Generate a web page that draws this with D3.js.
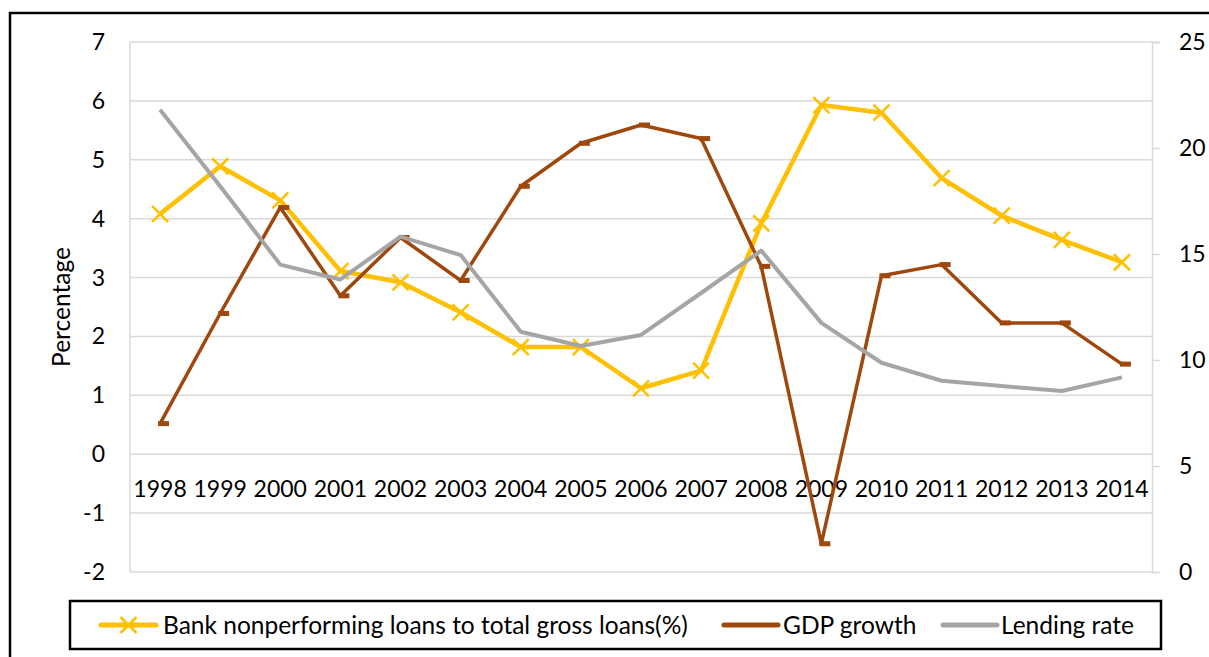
<!DOCTYPE html>
<html>
<head>
<meta charset="utf-8">
<script src="https://cdn.jsdelivr.net/npm/d3@7/dist/d3.min.js"></script>
<style>
  body { margin: 0; background: #fff; }
  svg { display: block; font-family: Lato, "Open Sans", sans-serif; }
</style>
</head>
<body>
<svg width="1209" height="657"></svg>
<script>
const years = ['1998', '1999', '2000', '2001', '2002', '2003', '2004', '2005', '2006',
  '2007', '2008', '2009', '2010', '2011', '2012', '2013', '2014'];
const nplValues = [4.08, 4.89, 4.31, 3.11, 2.92, 2.41, 1.82, 1.82, 1.12, 1.42, 3.92,
  5.93, 5.8, 4.69, 4.05, 3.64, 3.26];
const gdpValues = [0.52, 2.39, 4.19, 2.69, 3.68, 2.95, 4.55, 5.28, 5.59, 5.36, 3.19,
  -1.52, 3.03, 3.22, 2.23, 2.23, 1.53];
const lendingValues = [21.8, 18.2, 14.5, 13.8, 15.82, 14.95, 11.33, 10.66, 11.18, 13.16,
  15.16, 11.75, 9.87, 9.02, 8.77, 8.54, 9.18];
const leftTicks = [-2, -1, 0, 1, 2, 3, 4, 5, 6, 7];
const rightTicks = [0, 5, 10, 15, 20, 25];
const seriesNames = ['Bank nonperforming loans to total gross loans(%)', 'GDP growth', 'Lending rate'];

const colors = { npl: '#FFC000', gdp: '#9E480E', lending: '#A5A5A5', grid: '#D9D9D9' };

const svg = d3.select('svg');
const plot = { left: 130, right: 1152, top: 42, bottom: 572 };
const tickFont = 23;
const labelFont = 24.5;

// outer chart border (runs past the picture on the right and bottom)
svg.append('rect')
  .attr('x', 10).attr('y', 13)
  .attr('width', 1300).attr('height', 700)
  .attr('fill', '#fff')
  .attr('stroke', '#000')
  .attr('stroke-width', 2.5);

const x = d3.scaleBand().domain(years).range([plot.left, plot.right]);
const cx = (d) => x(d) + x.bandwidth() / 2;
const yL = d3.scaleLinear().domain([-2, 7]).range([plot.bottom, plot.top]);
const yR = d3.scaleLinear().domain([0, 25]).range([plot.bottom, plot.top]);

// gridlines
svg.append('g')
  .selectAll('line')
  .data(leftTicks)
  .enter()
  .append('line')
  .attr('x1', plot.left).attr('x2', plot.right)
  .attr('y1', (d) => yL(d)).attr('y2', (d) => yL(d))
  .attr('stroke', colors.grid)
  .attr('stroke-width', 1.5);

// left axis line
svg.append('line')
  .attr('x1', plot.left).attr('x2', plot.left)
  .attr('y1', plot.top).attr('y2', plot.bottom)
  .attr('stroke', colors.grid).attr('stroke-width', 1.5);

// right axis with outward ticks
const rightAxis = svg.append('g')
  .attr('transform', `translate(${plot.right},0)`)
  .call(d3.axisRight(yR).tickValues(rightTicks).tickSize(8).tickPadding(19));
rightAxis.select('.domain').attr('stroke', colors.grid).attr('stroke-width', 1.5);
rightAxis.selectAll('.tick line').attr('stroke', colors.grid).attr('stroke-width', 1.5);
rightAxis.selectAll('.tick text')
  .attr('font-size', tickFont).attr('fill', '#000')
  .attr('font-family', 'Lato, sans-serif');

// left tick labels
svg.append('g')
  .selectAll('text')
  .data(leftTicks)
  .enter()
  .append('text')
  .attr('x', 105)
  .attr('y', (d) => yL(d))
  .attr('dy', '0.35em')
  .attr('text-anchor', 'end')
  .attr('font-size', tickFont)
  .text((d) => d);

// category labels sit just under the zero line
svg.append('g')
  .selectAll('text')
  .data(years)
  .enter()
  .append('text')
  .attr('x', (d) => cx(d))
  .attr('y', yL(0) + 43)
  .attr('text-anchor', 'middle')
  .attr('font-size', tickFont)
  .text((d) => d);

svg.append('text')
  .attr('transform', `translate(70,${(plot.top + plot.bottom) / 2}) rotate(-90)`)
  .attr('text-anchor', 'middle')
  .attr('font-size', labelFont)
  .text('Percentage');

const line = (vals, yScale) => d3.line()
  .x((d, i) => cx(years[i]))
  .y((d) => yScale(d))(vals);

// NPL series with x markers
svg.append('path')
  .attr('d', line(nplValues, yL))
  .attr('fill', 'none')
  .attr('stroke', colors.npl)
  .attr('stroke-width', 4.5)
  .attr('stroke-linejoin', 'round');

const xMark = (px, py, s) => `M${px - s},${py - s}L${px + s},${py + s}M${px - s},${py + s}L${px + s},${py - s}`;

svg.append('g')
  .selectAll('path')
  .data(nplValues)
  .enter()
  .append('path')
  .attr('d', (d, i) => xMark(cx(years[i]), yL(d), 8))
  .attr('stroke', colors.npl)
  .attr('stroke-width', 2.5);

// GDP series with dash markers
svg.append('path')
  .attr('d', line(gdpValues, yL))
  .attr('fill', 'none')
  .attr('stroke', colors.gdp)
  .attr('stroke-width', 3.5)
  .attr('stroke-linejoin', 'round');

svg.append('g')
  .selectAll('rect')
  .data(gdpValues)
  .enter()
  .append('rect')
  .attr('x', (d, i) => cx(years[i]) - 2)
  .attr('y', (d) => yL(d) - 2.5)
  .attr('width', 11)
  .attr('height', 5)
  .attr('fill', colors.gdp);

// lending rate on the right axis
svg.append('path')
  .attr('d', line(lendingValues, yR))
  .attr('fill', 'none')
  .attr('stroke', colors.lending)
  .attr('stroke-width', 4)
  .attr('stroke-linejoin', 'round');

// legend
const legend = svg.append('g');
legend.append('rect')
  .attr('x', 70).attr('y', 601)
  .attr('width', 1091).attr('height', 48)
  .attr('fill', '#fff')
  .attr('stroke', '#000')
  .attr('stroke-width', 2.5);

const legendItems = [
  { name: seriesNames[0], color: colors.npl, x0: 101, x1: 156, tx: 163, marker: true },
  { name: seriesNames[1], color: colors.gdp, x0: 724, x1: 778, tx: 783 },
  { name: seriesNames[2], color: colors.lending, x0: 943, x1: 997, tx: 1001 }
];
const ly = 625;
legendItems.forEach((item) => {
  legend.append('line')
    .attr('x1', item.x0).attr('x2', item.x1)
    .attr('y1', ly).attr('y2', ly)
    .attr('stroke', item.color)
    .attr('stroke-width', 5)
    .attr('stroke-linecap', 'round');
  if (item.marker) {
    legend.append('path')
      .attr('d', xMark((item.x0 + item.x1) / 2, ly, 8))
      .attr('stroke', item.color)
      .attr('stroke-width', 2.5);
  }
  legend.append('text')
    .attr('x', item.tx)
    .attr('y', ly)
    .attr('dy', '0.35em')
    .attr('font-size', labelFont)
    .text(item.name);
});
</script>
</body>
</html>
